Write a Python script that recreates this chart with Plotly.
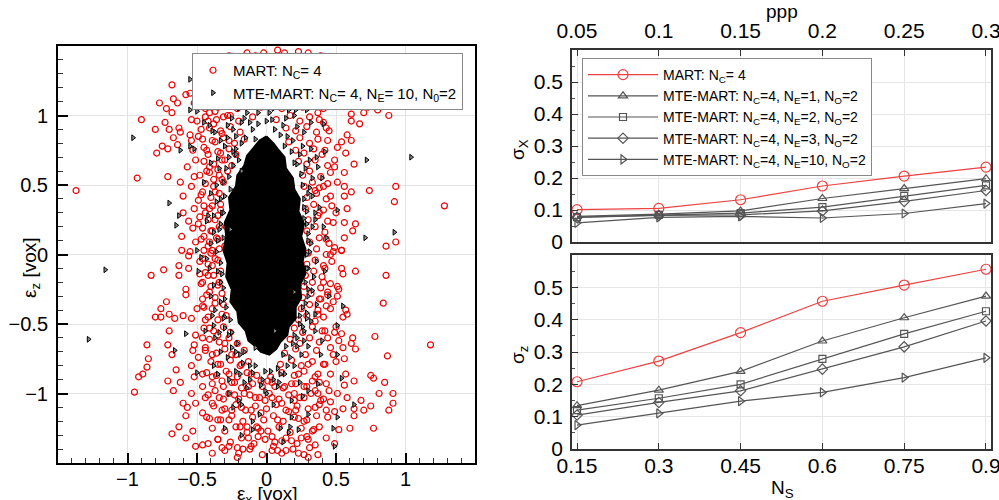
import plotly.graph_objects as go

# ---------------- data: right panels ----------------
ppp = [0.05, 0.10, 0.15, 0.20, 0.25, 0.30]
ns = [0.15, 0.30, 0.45, 0.60, 0.75, 0.90]

sx_mart = [0.101, 0.105, 0.132, 0.175, 0.206, 0.234]
sx_ne1 = [0.080, 0.087, 0.097, 0.136, 0.167, 0.198]
sx_ne2 = [0.078, 0.085, 0.090, 0.109, 0.144, 0.177]
sx_ne3 = [0.077, 0.083, 0.085, 0.097, 0.127, 0.161]
sx_ne10 = [0.060, 0.077, 0.080, 0.075, 0.089, 0.120]

sz_mart = [0.208, 0.272, 0.360, 0.457, 0.507, 0.556]
sz_ne1 = [0.134, 0.182, 0.240, 0.334, 0.406, 0.473]
sz_ne2 = [0.120, 0.157, 0.200, 0.279, 0.356, 0.426]
sz_ne3 = [0.105, 0.144, 0.180, 0.247, 0.316, 0.396]
sz_ne10 = [0.074, 0.110, 0.148, 0.175, 0.221, 0.282]

x_ticks_ppp = [0.05, 0.1, 0.15, 0.2, 0.25, 0.3]
x_ticks_ns = [0.15, 0.3, 0.45, 0.6, 0.75, 0.9]
y_ticks_sigma = [0, 0.1, 0.2, 0.3, 0.4, 0.5]
eps_ticks = [-1, -0.5, 0, 0.5, 1]

# ---------------- data: left scatter (read / estimated from picture) ----------------
mart_outer = [
    (-1.37, 0.46), (-0.93, 0.55), (-0.90, 0.97), (-0.80, 0.90), (-0.79, 0.73), (-0.75, 0.78), (-0.71, 0.76),
    (-0.71, 0.56), (-0.73, 0.95), (-0.70, 0.90), (-0.68, 1.22), (-0.67, 1.12), (-0.64, 1.09), (-0.72, 1.05),
    (-0.77, 1.09), (-0.68, 1.02), (-0.63, 0.91), (-0.62, 0.88), (-0.67, 0.84), (-0.64, 0.79), (-0.62, 0.52),
    (-0.58, 1.15), (-0.55, 1.16), (-0.52, 1.09), (-0.57, 0.63), (-0.54, 0.49), (-0.60, 0.42), (-0.60, 0.30),
    (-0.61, 0.13), (-0.56, 0.24), (-0.54, 0.97), (-0.55, 0.86), (-0.54, 0.82), (-0.53, 0.75), (-0.52, 0.56),
    (-0.61, 0.03), (-0.52, 0.33), (-0.53, 0.19), (-0.50, 0.96), (-0.47, 0.90), (-0.48, 1.08), (-0.44, 1.05),
    (-0.40, 1.07), (-0.49, 0.85), (-0.45, 0.77), (-0.51, 0.68), (-0.48, 0.57), (-0.46, 0.45), (-0.49, 0.39),
    (-0.44, 0.30), (-0.49, 0.22), (-0.45, 0.13), (-0.51, 0.09), (-0.42, 0.06), (-0.41, 1.02), (-0.42, 0.96),
    (-0.38, 0.94), (-0.37, 1.03), (-0.39, 0.82), (-0.42, 0.72), (-0.41, 0.63), (-0.38, 0.54), (-0.43, 0.60),
    (-0.37, 0.45), (-0.35, 0.61), (-0.35, 0.74), (-0.32, 0.87), (-0.31, 0.99), (-0.27, 1.08), (-0.26, 1.00),
    (-0.23, 1.08), (-0.19, 1.10), (-0.27, 0.82), (-0.30, 0.68), (-0.32, 0.54), (-0.39, 0.35), (-0.37, 0.25),
    (-0.33, 0.32), (-0.39, 0.17), (-0.35, 0.11), (-0.39, 0.03), (-0.29, 0.20), (-0.30, 0.06), (-0.14, 1.45),
    (-0.02, 1.45), (-0.27, 1.43), (-0.08, 1.43),
    (1.28, 0.35), (1.01, 1.07), (0.88, 1.00), (0.80, 1.04), (0.73, 1.06), (0.70, 1.02), (0.93, 0.49),
    (0.92, 0.38), (0.93, 0.09), (0.86, 0.06), (0.74, 0.46), (0.61, 0.45), (0.56, 0.49), (0.63, 0.65),
    (0.56, 0.59), (0.61, 0.82), (0.58, 0.86), (0.57, 0.73), (0.67, 0.94), (0.61, 0.96), (0.61, 1.01),
    (0.56, 1.07), (0.61, 1.10), (0.50, 1.09), (0.48, 1.09), (0.51, 0.77), (0.54, 0.81), (0.49, 0.68),
    (0.49, 0.63), (0.51, 0.52), (0.56, 0.42), (0.58, 0.33), (0.64, 0.22), (0.62, 0.17), (0.56, 0.12),
    (0.56, 0.23), (0.50, 0.30), (0.48, 0.23), (0.54, 0.03), (0.49, 0.05), (0.46, 0.42), (0.42, 0.75),
    (0.44, 0.82), (0.41, 0.95), (0.45, 0.89), (0.37, 1.02), (0.41, 0.49), (0.38, 0.30), (0.43, 0.11),
    (0.35, 0.46), (0.30, 1.45), (0.39, 1.43), (0.23, 1.46), (0.08, 1.47), (0.13, 1.45),
    (-0.95, -0.99), (-0.92, -0.88), (-0.89, -0.86), (-0.85, -0.75), (-0.86, -0.81), (-0.86, -0.65),
    (-0.83, -0.15), (-0.74, -0.11), (-0.80, -0.45), (-0.76, -0.45), (-0.76, -0.39), (-0.72, -0.34),
    (-0.70, -0.43), (-0.66, -0.46), (-0.70, -0.55), (-0.71, -0.65), (-0.68, -0.72), (-0.65, -0.83),
    (-0.71, -0.91), (-0.67, -0.98), (-0.68, -1.29), (-0.63, -1.24), (-0.58, -1.32), (-0.53, -1.27),
    (-0.58, -1.16), (-0.62, -0.92), (-0.60, -1.07), (-0.63, -0.08), (-0.63, -0.15), (-0.56, -0.10),
    (-0.58, -0.25), (-0.58, -0.29), (-0.60, -0.44), (-0.55, 0.02), (-0.56, -0.01), (-0.51, -1.38),
    (-0.46, -1.37), (-0.42, -1.36), (-0.35, -1.33), (-0.39, -1.43), (-0.32, -1.39), (-0.27, -1.38),
    (-0.21, -1.39), (-0.21, -1.46), (-0.17, -1.40), (-0.13, -1.32), (-0.11, -1.38), (-0.06, -1.31),
    (-0.07, -1.24), (-0.04, -1.27), (-0.14, -1.24), (-0.19, -1.24), (-0.27, -1.19), (-0.35, -1.19),
    (-0.41, -1.18), (-0.46, -1.14), (-0.51, -1.07), (-0.57, -1.10), (-0.54, -1.00), (-0.46, -0.95),
    (-0.44, -1.03), (-0.39, -1.07), (-0.32, -1.12), (-0.25, -1.12), (-0.18, -1.10), (-0.11, -1.12),
    (-0.04, -1.14), (-0.01, -1.05), (-0.08, -1.03), (-0.16, -1.00), (-0.23, -1.01), (-0.31, -1.04),
    (-0.37, -0.98), (-0.32, -0.91), (-0.39, -0.88), (-0.46, -0.86), (-0.52, -0.88), (-0.54, -0.80),
    (-0.49, -0.74), (-0.53, -0.69), (-0.44, -0.67), (-0.39, -0.72), (-0.35, -0.79), (-0.27, -0.86),
    (-0.23, -0.92), (-0.46, -0.60), (-0.51, -0.58), (-0.52, -0.65), (-0.41, -0.53), (-0.44, -0.47),
    (-0.54, -0.46), (-0.50, -0.39), (-0.45, -0.38), (-0.46, -0.32), (-0.41, -0.27), (-0.46, -0.20),
    (-0.42, -0.15), (-0.48, -0.14), (-0.39, -0.08), (-0.37, -0.03), (-0.46, -0.03), (-0.35, -0.22),
    (-0.37, -0.35), (-0.32, -0.43), (-0.35, -0.58), (-0.30, -0.64), (-0.25, -0.72), (-0.18, -0.79),
    (-0.11, -0.86), (-0.04, -0.91), (-0.13, -0.95),
    (1.18, -0.65), (0.86, -0.15), (0.84, -0.35), (0.64, -0.12), (0.78, -0.59), (0.87, -0.73), (0.75, -0.87),
    (0.77, -0.89), (0.85, -0.92), (0.81, -1.00), (0.91, -1.00), (0.91, -1.07), (0.88, -1.12), (0.77, -1.25),
    (0.75, -1.09), (0.70, -1.12), (0.68, -1.05), (0.63, -0.91), (0.62, -0.60), (0.61, -0.64), (0.64, -0.68),
    (0.57, -0.86), (0.56, -0.94), (0.58, -1.03), (0.63, -1.11), (0.63, -1.16), (0.55, -1.11), (0.60, -1.25),
    (0.52, -1.26), (0.49, -1.13), (0.44, -1.17), (0.38, -1.24), (0.43, -1.32), (0.49, -1.36), (0.35, -1.37),
    (0.31, -1.39), (0.37, -1.44), (0.30, -1.46), (0.23, -1.43), (0.14, -1.41), (0.08, -1.41), (0.05, -1.38),
    (0.11, -1.34), (0.18, -1.34), (0.25, -1.32), (0.29, -1.31), (0.34, -1.26), (0.27, -1.20), (0.23, -1.18),
    (0.16, -1.13), (0.08, -1.19), (0.04, -1.31), (0.21, -1.12), (0.35, -1.10), (0.43, -1.12), (0.46, -1.06),
    (0.51, -1.00), (0.45, -0.98), (0.37, -1.00), (0.27, -1.03), (0.20, -1.05), (0.11, -1.07), (0.04, -1.03),
    (0.50, -0.77), (0.56, -0.75), (0.55, -0.67), (0.52, -0.62), (0.54, -0.57), (0.49, -0.56), (0.58, -0.43),
    (0.57, -0.40), (0.55, -0.45), (0.51, -0.30), (0.52, -0.25), (0.51, -0.23), (0.55, -0.14), (0.54, -0.10),
    (0.48, -0.34), (0.46, -0.39), (0.50, -0.52), (0.44, -0.60), (0.42, -0.55), (0.46, -0.67), (0.48, -0.72),
    (0.42, -0.79), (0.46, -0.86), (0.43, -0.93), (0.37, -0.86), (0.33, -0.91), (0.27, -0.95), (0.35, -0.98),
    (0.39, -1.05), (0.30, -0.79), (0.23, -0.86), (0.18, -0.93), (0.13, -0.95), (0.20, -1.00), (0.06, -0.95),
    (0.01, -0.91), (0.46, 0.00), (0.48, 0.02), (0.54, 0.03), (0.41, -0.20), (0.42, -0.10), (0.44, -0.27),
    (0.37, -0.43), (0.39, -0.32),
    (-0.15, 1.30), (-0.05, 1.38), (0.05, 1.32), (0.10, 1.25), (-0.10, 1.20), (0.20, 1.35), (0.00, 1.22),
    (-0.20, 1.25), (0.15, 1.42), (0.25, 1.25), (0.32, 1.30), (-0.30, 1.30), (0.18, 1.15), (0.30, 1.12),
    (-0.12, 1.12), (0.08, 1.10), (-0.25, 1.35), (-0.35, 1.20), (-0.32, 1.40), (-0.18, 1.40), (-0.42, 1.15),
]

mart_dense = [
    (-0.35, 1.06), (-0.29, 1.09), (-0.21, 1.05), (-0.13, 1.08), (-0.04, 1.06), (0.03, 1.09), (0.11, 1.05),
    (0.19, 1.08), (0.26, 1.06), (0.33, 1.09), (0.41, 1.05),
    (-0.44, 0.99), (-0.36, 0.97), (-0.28, 1.00), (-0.20, 0.96), (-0.10, 0.99), (0.07, 0.97), (0.17, 1.00),
    (0.24, 0.96), (0.31, 0.99), (0.38, 0.97),
    (-0.41, 0.91), (-0.33, 0.89), (-0.26, 0.92), (-0.19, 0.88), (0.14, 0.91), (0.21, 0.89), (0.29, 0.92),
    (0.36, 0.88), (0.43, 0.91),
    (-0.46, 0.83), (-0.37, 0.81), (-0.31, 0.84), (-0.23, 0.80), (-0.16, 0.83), (0.16, 0.81), (0.24, 0.84),
    (0.31, 0.80), (0.37, 0.83),
    (-0.43, 0.75), (-0.33, 0.73), (-0.27, 0.76), (-0.22, 0.72), (0.21, 0.75), (0.27, 0.73), (0.34, 0.76),
    (0.40, 0.72),
    (-0.45, 0.67), (-0.38, 0.65), (-0.32, 0.68), (-0.25, 0.64), (0.23, 0.67), (0.29, 0.65), (0.35, 0.68),
    (0.44, 0.64),
    (-0.41, 0.59), (-0.34, 0.57), (-0.28, 0.60), (0.26, 0.57), (0.31, 0.60), (0.39, 0.56), (0.46, 0.59),
    (-0.44, 0.51), (-0.38, 0.49), (-0.31, 0.52), (0.27, 0.49), (0.33, 0.52), (0.38, 0.48), (0.44, 0.51),
    (-0.47, 0.43), (-0.40, 0.41), (-0.34, 0.44), (0.29, 0.41), (0.36, 0.44), (0.43, 0.40),
    (-0.45, 0.35), (-0.41, 0.33), (-0.33, 0.36), (0.28, 0.33), (0.34, 0.36), (0.41, 0.32), (0.47, 0.35),
    (-0.48, 0.27), (-0.42, 0.25), (-0.35, 0.28), (0.30, 0.25), (0.37, 0.28), (0.44, 0.24),
    (-0.46, 0.19), (-0.40, 0.17), (-0.34, 0.20), (0.29, 0.17), (0.35, 0.20), (0.42, 0.16),
    (-0.47, 0.11), (-0.41, 0.09), (-0.36, 0.12), (0.31, 0.09), (0.38, 0.12), (0.45, 0.08),
    (-0.45, 0.03), (-0.40, 0.01), (-0.34, 0.04), (0.30, 0.01), (0.36, 0.04), (0.43, 0.00),
    (-0.48, -0.05), (-0.42, -0.07), (-0.35, -0.04), (0.29, -0.07), (0.35, -0.04), (0.41, -0.08), (0.47, -0.05),
    (-0.44, -0.13), (-0.38, -0.15), (-0.33, -0.12), (0.28, -0.15), (0.34, -0.12), (0.40, -0.16),
    (-0.47, -0.21), (-0.40, -0.23), (-0.34, -0.20), (0.27, -0.23), (0.33, -0.20), (0.39, -0.24), (0.46, -0.21),
    (-0.43, -0.29), (-0.37, -0.31), (-0.32, -0.28), (0.26, -0.31), (0.32, -0.28), (0.38, -0.32), (0.44, -0.29),
    (-0.46, -0.37), (-0.39, -0.39), (-0.31, -0.36), (0.25, -0.39), (0.31, -0.36), (0.37, -0.40), (0.43, -0.37),
    (-0.42, -0.45), (-0.35, -0.47), (-0.29, -0.44), (0.23, -0.47), (0.29, -0.44), (0.35, -0.48), (0.41, -0.45),
    (-0.45, -0.53), (-0.38, -0.55), (-0.31, -0.52), (-0.26, -0.56), (0.20, -0.53), (0.26, -0.56), (0.33, -0.52),
    (0.40, -0.55),
    (-0.41, -0.61), (-0.34, -0.63), (-0.27, -0.60), (-0.21, -0.64), (0.17, -0.61), (0.24, -0.64), (0.31, -0.60),
    (0.38, -0.63),
    (-0.44, -0.69), (-0.36, -0.71), (-0.30, -0.68), (-0.22, -0.72), (-0.16, -0.69), (0.13, -0.71), (0.21, -0.68),
    (0.28, -0.72), (0.36, -0.69),
    (-0.40, -0.77), (-0.33, -0.79), (-0.26, -0.76), (-0.19, -0.80), (-0.13, -0.77), (0.10, -0.79), (0.18, -0.76),
    (0.25, -0.80), (0.33, -0.77), (0.41, -0.79),
    (-0.43, -0.85), (-0.36, -0.87), (-0.29, -0.84), (-0.21, -0.88), (-0.14, -0.85), (-0.07, -0.87), (0.03, -0.88),
    (0.11, -0.85), (0.20, -0.87), (0.27, -0.84), (0.35, -0.88),
    (-0.39, -0.93), (-0.31, -0.95), (-0.25, -0.92), (-0.18, -0.96), (-0.10, -0.93), (-0.03, -0.95), (0.04, -0.92),
    (0.12, -0.96), (0.21, -0.93), (0.29, -0.95), (0.38, -0.92),
    (-0.42, -1.01), (-0.34, -1.03), (-0.27, -1.00), (-0.20, -1.04), (-0.12, -1.01), (-0.05, -1.03), (0.02, -1.00),
    (0.09, -1.04), (0.16, -1.01), (0.24, -1.03), (0.32, -1.00), (0.41, -1.04),
    (-0.38, -1.09), (-0.30, -1.11), (-0.22, -1.08), (-0.15, -1.12), (-0.08, -1.09), (0.00, -1.11), (0.07, -1.08),
    (0.14, -1.12), (0.22, -1.09), (0.30, -1.11), (0.38, -1.08),
    (-0.43, -1.17), (-0.33, -1.19), (-0.25, -1.16), (-0.17, -1.20), (-0.10, -1.17), (-0.02, -1.19), (0.05, -1.16),
    (0.12, -1.20), (0.20, -1.17), (0.29, -1.19), (0.36, -1.16),
    (-0.39, -1.25), (-0.30, -1.27), (-0.22, -1.24), (-0.14, -1.28), (-0.06, -1.25), (0.01, -1.27), (0.09, -1.24),
    (0.17, -1.28), (0.25, -1.25), (0.33, -1.27),
    (-0.35, -1.33), (-0.26, -1.35), (-0.18, -1.32), (-0.09, -1.36), (-0.01, -1.33), (0.06, -1.35), (0.14, -1.32),
    (0.22, -1.36), (0.30, -1.33),
    (-0.30, -1.41), (-0.20, -1.43), (-0.12, -1.40), (-0.03, -1.44), (0.04, -1.41), (0.11, -1.43), (0.19, -1.40),
    (0.27, -1.44),
]

mte_xy = [
    (-0.96, 0.84), (-0.70, 0.37), (-0.63, 0.28), (-0.65, 0.21), (-0.50, 0.03), (-0.55, 1.04), (-0.50, 1.03),
    (-0.55, 1.26), (-0.41, 0.93), (-0.39, 0.89), (-0.62, 0.75), (-0.55, 0.78), (-0.52, 0.76), (-0.42, 0.28),
    (-0.38, 0.16), (-0.31, 1.07), (-0.24, 0.90), (-0.22, 0.72), (-0.14, 1.02), (-0.08, 0.83), (-0.18, 0.60),
    (-0.26, 0.18), (-0.35, 0.69),
    (1.04, 0.70), (0.72, 0.68), (0.92, 0.16), (0.71, 0.12), (0.43, 0.12), (0.51, 0.32), (0.42, 0.74),
    (0.41, 0.94), (0.29, 1.04), (0.21, 1.04), (0.16, 1.04), (0.32, 0.76), (0.37, 0.63), (0.30, 0.44),
    (0.35, 0.25),
    (-1.16, -0.11), (-1.28, -0.61), (-0.58, -0.57), (-0.66, -0.69), (-0.49, -0.12), (-0.43, -0.03),
    (-0.35, -0.86), (-0.27, -1.00), (-0.19, -0.86), (-0.16, -0.92), (-0.10, -1.26), (-0.37, -0.60),
    (-0.30, -0.53), (-0.25, -0.67), (-0.08, -0.67), (-0.01, -0.84), (-0.30, -0.32), (-0.38, -0.51),
    (0.63, -1.08), (0.55, -0.37), (0.54, -0.89), (0.51, -1.17), (0.48, -1.25), (0.49, -1.38), (0.51, -0.72),
    (0.51, -0.51), (0.39, -0.72), (0.37, -0.93), (0.30, -0.98), (0.18, -1.17), (0.17, -1.24), (0.16, -1.28),
    (0.23, -1.26), (0.42, -0.12), (0.35, -0.43), (0.27, -0.55), (0.25, -0.72), (0.10, -0.86), (0.06, -0.55),
    (0.20, -0.27), (0.30, -0.25), (0.29, -0.46),
    (-0.32, 0.30), (-0.35, 0.10), (-0.33, -0.20), (-0.30, -0.45), (-0.22, -0.70), (-0.12, -0.90),
    (0.00, -1.00), (0.08, -0.95), (0.15, -0.80), (0.22, -0.60), (0.28, -0.35), (0.30, -0.10), (0.30, 0.15),
    (0.27, 0.40), (0.22, 0.65), (0.15, 0.85), (0.05, 1.05), (-0.08, 1.10), (-0.18, 0.95), (-0.27, 0.70),
    (-0.36, 0.50), (0.33, 0.55), (0.35, -0.55), (-0.05, -1.15), (0.10, 1.15), (-0.40, -0.30), (0.18, -1.05),
    (-0.20, -1.05),
    (-0.33, 0.82), (-0.28, 0.93), (-0.22, 0.85), (-0.16, 0.98), (-0.06, 1.02), (0.04, 0.97), (0.12, 0.93),
    (0.19, 0.82), (0.24, 0.72), (0.28, 0.62), (0.31, 0.48), (0.29, 0.31), (0.33, 0.20), (0.31, 0.02),
    (0.34, -0.16), (0.30, -0.30), (0.29, -0.42), (0.26, -0.52), (0.22, -0.66), (0.17, -0.74), (0.13, -0.86),
    (0.05, -0.90), (-0.04, -0.94), (-0.10, -0.85), (-0.17, -0.78), (-0.21, -0.64), (-0.27, -0.58),
    (-0.31, -0.46), (-0.33, -0.34), (-0.35, -0.12), (-0.36, 0.02), (-0.34, 0.18), (-0.36, 0.38),
    (-0.31, 0.52), (-0.29, 0.62), (-0.24, 0.74), (-0.20, 0.68), (-0.26, 0.47), (-0.31, 0.12), (-0.31, -0.24),
    (-0.26, -0.47), (-0.16, -0.70), (-0.08, -0.80), (0.03, -0.84), (0.12, -0.72), (0.20, -0.58), (0.24, -0.44),
    (0.28, -0.20), (0.30, 0.10), (0.27, 0.26), (0.26, 0.50), (0.20, 0.66), (0.13, 0.78), (0.06, 0.90),
    (-0.06, 0.94), (-0.15, 0.84), (-0.22, 0.76), (-0.40, 0.66), (-0.43, 0.24), (-0.41, -0.10), (-0.39, -0.44),
    (-0.33, -0.70), (-0.27, -0.90), (-0.18, -1.08), (0.24, -0.92), (0.30, -0.66), (0.36, -0.36), (0.38, 0.34),
    (0.36, 0.70), (0.27, 0.88), (0.20, 1.00), (-0.10, -1.20), (0.10, -1.25), (-0.30, -1.25), (0.30, -1.15),
    (-0.37, 0.88), (-0.30, 0.78), (-0.25, 0.98), (-0.12, 0.95), (0.02, 1.02), (0.14, 0.98), (0.22, 0.92),
    (0.26, 0.78), (0.31, 0.68), (0.33, 0.42), (0.35, 0.30), (0.32, 0.08), (0.36, -0.05), (0.33, -0.26),
    (0.32, -0.48), (0.27, -0.62), (0.20, -0.80), (0.09, -0.92), (-0.01, -0.98), (-0.14, -0.96), (-0.22, -0.84),
    (-0.28, -0.74), (-0.34, -0.56), (-0.37, -0.40), (-0.38, -0.22), (-0.40, 0.08), (-0.38, 0.28), (-0.40, 0.44),
    (-0.34, 0.62), (-0.28, 0.84), (-0.33, 0.40), (-0.33, 0.22), (-0.33, -0.06), (-0.32, -0.14), (-0.29, -0.38),
    (-0.25, -0.56), (-0.19, -0.72), (-0.12, -0.80), (-0.03, -0.90), (0.08, -0.82), (0.14, -0.66), (0.19, -0.64),
    (0.24, -0.50), (0.26, -0.38), (0.29, -0.10), (0.29, 0.00), (0.29, 0.22), (0.27, 0.34), (0.25, 0.58),
    (0.18, 0.74), (0.10, 0.86), (0.00, 0.96), (-0.10, 0.90), (-0.18, 0.80), (-0.24, 0.64), (-0.27, 0.56),
    (-0.30, 0.42), (-0.31, 0.30), (-0.45, 0.52), (-0.47, -0.02), (-0.44, -0.55), (-0.38, -0.80),
    (-0.24, -1.10), (0.05, -1.08), (0.26, -1.02), (0.40, -0.62), (0.41, 0.20), (0.40, 0.55), (0.32, 0.95),
    (-0.20, 1.05), (0.00, 1.10), (-0.45, 0.95), (0.45, -0.30), (-0.50, -0.85), (0.12, -1.35), (-0.18, -1.30),
]

# outline of the saturated (solid black) core of the scatter cloud
core_xy = [
    (0.00, 0.85), (0.05, 0.80), (0.08, 0.76), (0.13, 0.70), (0.14, 0.62), (0.19, 0.55), (0.20, 0.47),
    (0.24, 0.40), (0.23, 0.31), (0.27, 0.22), (0.25, 0.13), (0.28, 0.04), (0.26, -0.05), (0.28, -0.14),
    (0.24, -0.22), (0.25, -0.31), (0.21, -0.38), (0.21, -0.46), (0.16, -0.52), (0.15, -0.58), (0.10, -0.63),
    (0.07, -0.68), (0.02, -0.72), (-0.04, -0.70), (-0.08, -0.66), (-0.13, -0.62), (-0.15, -0.55),
    (-0.20, -0.49), (-0.21, -0.41), (-0.26, -0.34), (-0.25, -0.25), (-0.29, -0.16), (-0.28, -0.06),
    (-0.31, 0.03), (-0.29, 0.13), (-0.30, 0.23), (-0.26, 0.32), (-0.27, 0.41), (-0.22, 0.49), (-0.21, 0.57),
    (-0.16, 0.64), (-0.14, 0.71), (-0.09, 0.77), (-0.05, 0.82), (0.00, 0.85),
]

mart_all = mart_outer + mart_dense
mart_x = [p[0] for p in mart_all]
mart_y = [p[1] for p in mart_all]
mte_x = [p[0] for p in mte_xy]
mte_y = [p[1] for p in mte_xy]
core_x = [p[0] for p in core_xy]
core_y = [p[1] for p in core_xy]

FONT = "Liberation Sans, Arial, sans-serif"
RED = "#ee0000"
LRED = "#f04040"
GRAY = "#555555"

fig = go.Figure()

# left scatter
fig.add_trace(go.Scatter(x=mart_x, y=mart_y, mode="markers", name="MART: N<sub>C</sub>= 4",
                         marker=dict(symbol="circle-open", size=6, color=RED, line=dict(width=1.2)),
                         xaxis="x", yaxis="y", legend="legend"))
fig.add_trace(go.Scatter(x=core_x, y=core_y, mode="lines", fill="toself", fillcolor="black",
                         line=dict(color="black", width=2), showlegend=False,
                         hoverinfo="skip", xaxis="x", yaxis="y"))
fig.add_trace(go.Scatter(x=mte_x, y=mte_y, mode="markers",
                         name="MTE-MART: N<sub>C</sub>= 4, N<sub>E</sub>= 10, N<sub>0</sub>=2",
                         marker=dict(symbol="triangle-right", size=5, color="#8a8a8a",
                                     line=dict(width=1, color="black")),
                         xaxis="x", yaxis="y", legend="legend"))

# right panels
series = [
    ("MART: N<sub>C</sub>= 4", sx_mart, sz_mart, "circle-open", LRED, 10),
    ("MTE-MART: N<sub>C</sub>=4, N<sub>E</sub>=1, N<sub>O</sub>=2", sx_ne1, sz_ne1, "triangle-up-open", GRAY, 8),
    ("MTE-MART: N<sub>C</sub>=4, N<sub>E</sub>=2, N<sub>O</sub>=2", sx_ne2, sz_ne2, "square-open", GRAY, 7),
    ("MTE-MART: N<sub>C</sub>=4, N<sub>E</sub>=3, N<sub>O</sub>=2", sx_ne3, sz_ne3, "diamond-open", GRAY, 8),
    ("MTE-MART: N<sub>C</sub>=4, N<sub>E</sub>=10, N<sub>O</sub>=2", sx_ne10, sz_ne10, "triangle-right-open", GRAY, 8),
]
for name, sx, sz, sym, col, sz_m in series:
    fig.add_trace(go.Scatter(x=ppp, y=sx, mode="lines+markers", name=name,
                             line=dict(color=col, width=1.2),
                             marker=dict(symbol=sym, size=sz_m, color=col, line=dict(width=1.2)),
                             xaxis="x2", yaxis="y2", legend="legend2"))
    fig.add_trace(go.Scatter(x=ns, y=sz, mode="lines+markers", name=name, showlegend=False,
                             line=dict(color=col, width=1.2),
                             marker=dict(symbol=sym, size=sz_m, color=col, line=dict(width=1.2)),
                             xaxis="x3", yaxis="y3"))

W, H = 999, 500
def px(v):
    return v / W
def py(v):
    return 1 - v / H

left_font = dict(family=FONT, size=20, color="black")
right_font = dict(family=FONT, size=21, color="black")
left_common = dict(showline=True, linecolor="black", linewidth=2, mirror=True, automargin=False,
                   showgrid=True, gridcolor="#e3e3e3", gridwidth=1, zeroline=False,
                   ticks="inside", ticklen=10, tickwidth=2, tickcolor="black", tickfont=left_font,
                   ticklabeloverflow="allow",
                   minor=dict(ticks="inside", ticklen=5, tickwidth=1, tickcolor="#333", dtick=0.1,
                              showgrid=False))
right_common = dict(showline=True, linecolor="#333", linewidth=1.5, mirror=True, automargin=False,
                    showgrid=True, gridcolor="#e6e6e6", gridwidth=1, zeroline=False,
                    ticks="inside", ticklen=6, tickwidth=1, tickcolor="#333", tickfont=right_font,
                    ticklabeloverflow="allow")

fig.update_layout(
    width=W, height=H, margin=dict(l=0, r=0, t=0, b=0, autoexpand=False),
    paper_bgcolor="white", plot_bgcolor="white",
    font=dict(family=FONT, color="black"),
    xaxis=dict(domain=[px(58), px(475)], range=[-1.5, 1.5], tickvals=eps_ticks, anchor="y",
               ticklabelstandoff=-3, **left_common),
    yaxis=dict(domain=[py(463), py(46)], range=[-1.5, 1.5], tickvals=eps_ticks, anchor="x",
               ticklabelstandoff=4, **left_common),
    xaxis2=dict(domain=[px(572), px(991)], range=[0.04694, 0.30306], tickvals=x_ticks_ppp,
                ticktext=["0.05", "0.1", "0.15", "0.2", "0.25", "0.3"], side="top", anchor="y2",
                ticklabelstandoff=2, **right_common),
    yaxis2=dict(domain=[py(242), py(50)], range=[0, 0.6], tickvals=y_ticks_sigma,
                ticktext=["0", "0.1", "0.2", "0.3", "0.4", "0.5"], anchor="x2", ticklabelstandoff=3,
                minor=dict(ticks="inside", ticklen=3, tickcolor="#555", dtick=0.05, showgrid=False),
                **right_common),
    xaxis3=dict(domain=[px(572), px(991)], range=[0.1408, 0.9092], tickvals=x_ticks_ns,
                ticktext=["0.15", "0.3", "0.45", "0.6", "0.75", "0.9"], anchor="y3",
                ticklabelstandoff=-3, **right_common),
    yaxis3=dict(domain=[py(449), py(255)], range=[0, 0.6], tickvals=y_ticks_sigma,
                ticktext=["0", "0.1", "0.2", "0.3", "0.4", "0.5"], anchor="x3", ticklabelstandoff=3,
                minor=dict(ticks="inside", ticklen=3, tickcolor="#555", dtick=0.05, showgrid=False),
                **right_common),
    legend=dict(x=px(192), y=py(53), xanchor="left", yanchor="top", bgcolor="white",
                bordercolor="#888", borderwidth=1, font=dict(family=FONT, size=15, color="black"),
                tracegroupgap=0),
    legend2=dict(x=px(582), y=py(58), xanchor="left", yanchor="top", bgcolor="white",
                 bordercolor="#888", borderwidth=1, font=dict(family=FONT, size=14, color="black"),
                 tracegroupgap=0, itemwidth=70),
    showlegend=True,
)

ann_font = dict(family=FONT, size=19, color="black")
annotations = [
    dict(text="ε<sub>z</sub> [vox]", x=px(31), y=py(268), textangle=-90),
    dict(text="ε<sub>x</sub> [vox]", x=px(267), y=py(495)),
    dict(text="ppp", x=px(782), y=py(11)),
    dict(text="σ<sub>X</sub>", x=px(519), y=py(150), textangle=-90),
    dict(text="σ<sub>z</sub>", x=px(519), y=py(355), textangle=-90),
    dict(text="N<sub>S</sub>", x=px(782), y=py(489)),
]
for a in annotations:
    fig.add_annotation(xref="paper", yref="paper", showarrow=False, font=ann_font,
                       xanchor="center", yanchor="middle", **a)

fig.write_html("out.html")
